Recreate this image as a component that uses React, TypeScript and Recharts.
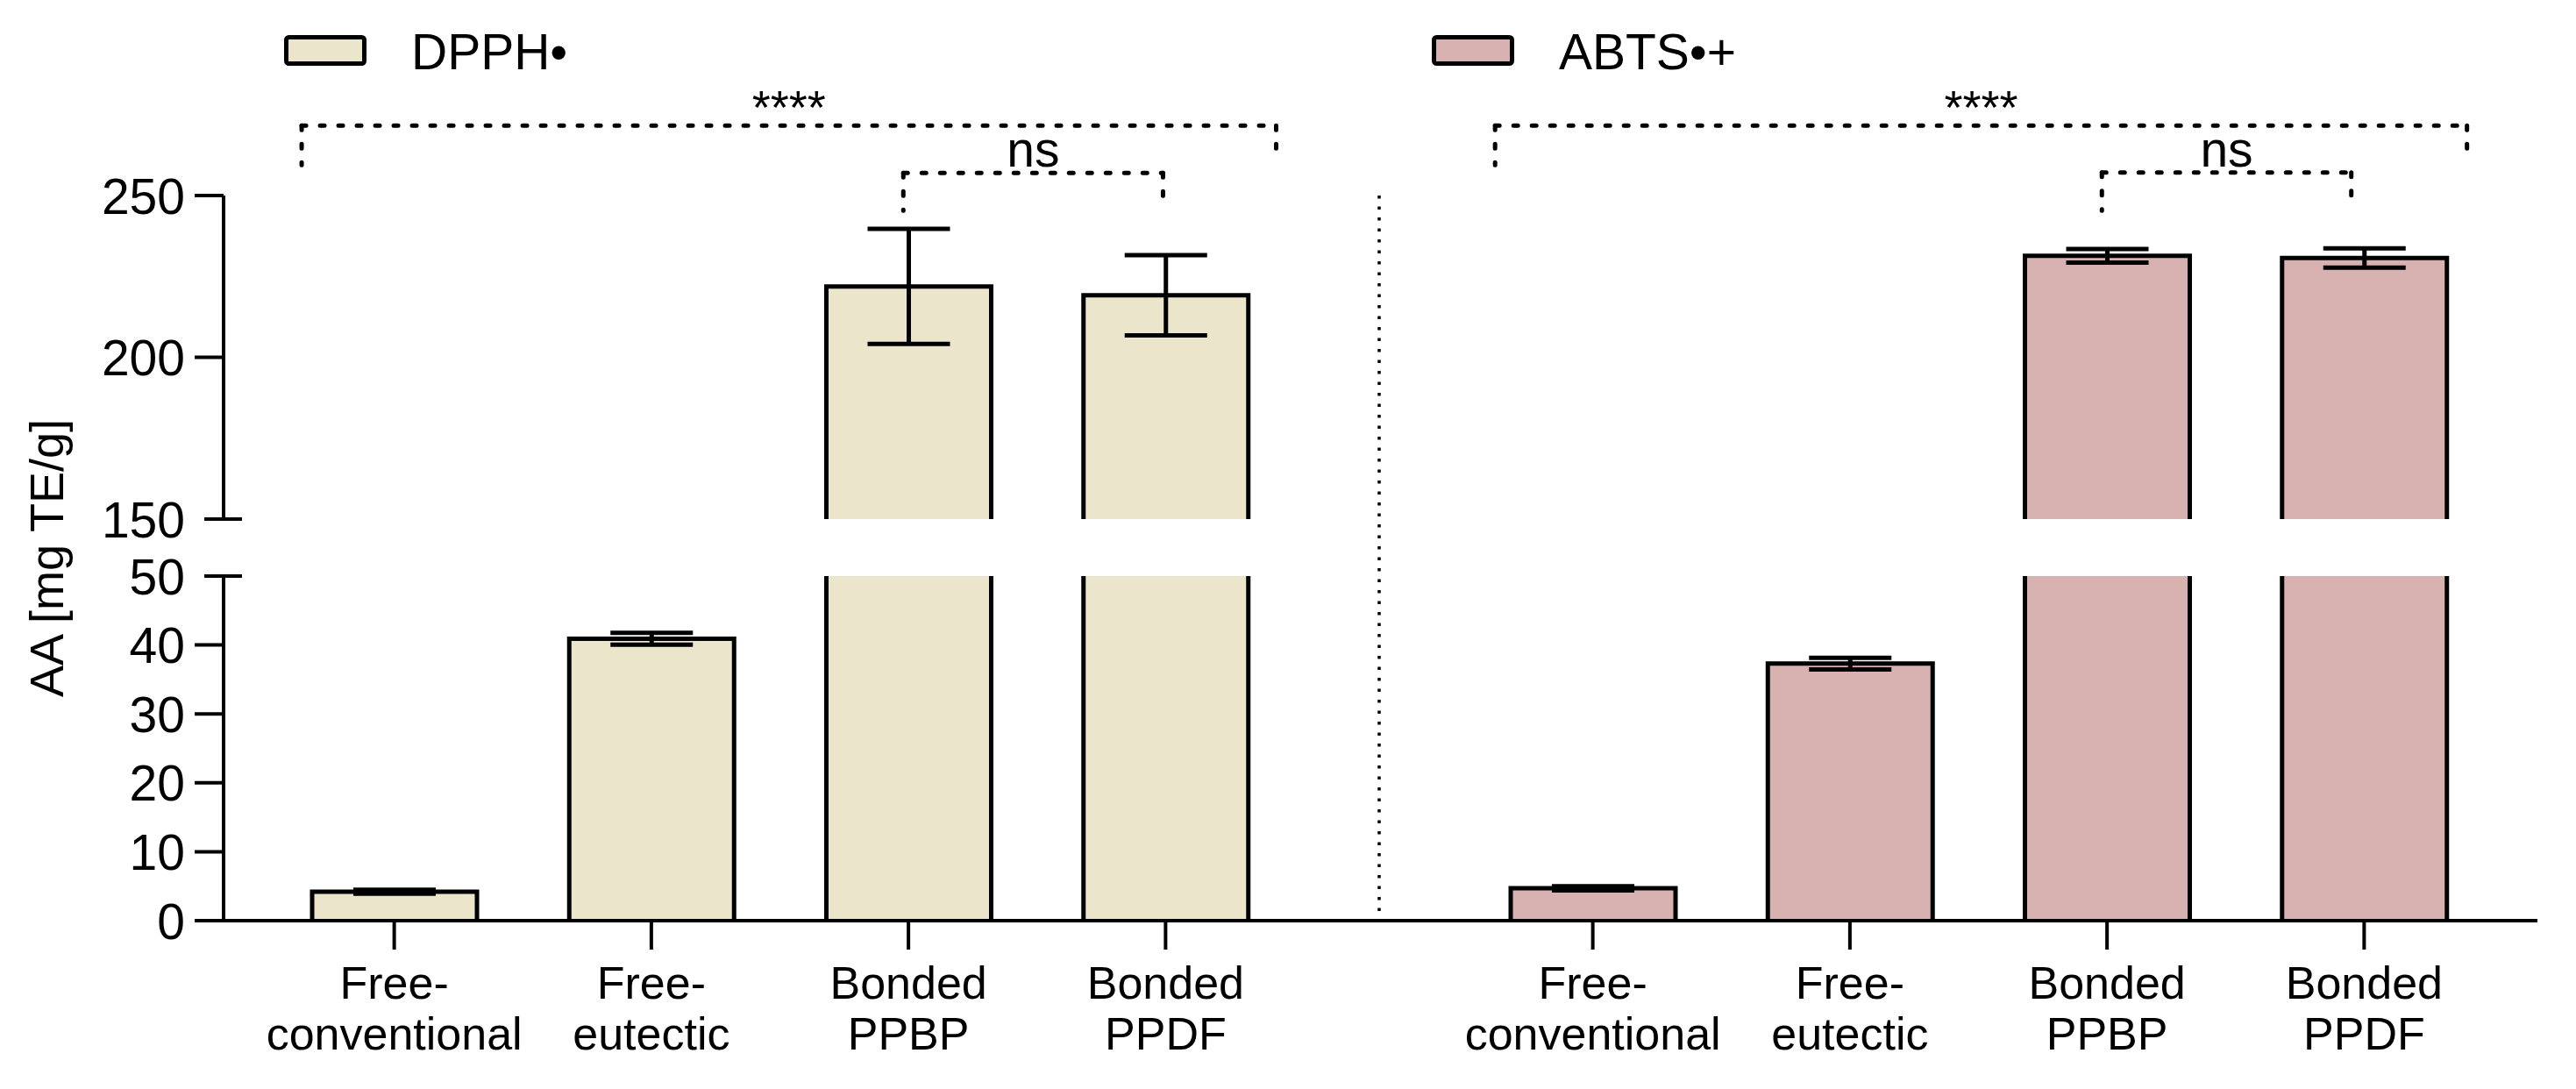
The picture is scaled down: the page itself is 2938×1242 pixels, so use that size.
import React from "react";
import { BarChart, Bar, XAxis, YAxis, ErrorBar, ReferenceLine, Legend } from "recharts";

// categories (\n = line break in the tick label)
const categories = ["Free-\nconventional", "Free-\neutectic", "Bonded\nPPBP", "Bonded\nPPDF"];

// mean and SD, mg TE/g
const dpphMean = [4.2, 40.9, 221.9, 219.2];
const dpphSd = [0.3, 0.85, 17.8, 12.4];
const abtsMean = [4.7, 37.3, 231.4, 230.7];
const abtsSd = [0.3, 0.85, 2.1, 3.0];

const lowerTicks = [0, 10, 20, 30, 40, 50];
const upperTicks = [150, 200, 250];

// significance brackets: ends in category-band units, heights in axis units
const dpphBrackets = [
  { from: 0.14, to: 3.93, y: 271.6, leftDrop: 259.4, rightDrop: 262.9, label: "****" },
  { from: 2.48, to: 3.49, y: 257.0, leftDrop: 245.3, rightDrop: 248.8, label: "ns" },
];
const abtsBrackets = [
  { from: 0.12, to: 3.9, y: 271.6, leftDrop: 259.4, rightDrop: 262.7, label: "****" },
  { from: 2.48, to: 3.45, y: 257.1, leftDrop: 245.3, rightDrop: 246.4, label: "ns" },
];

// axis break
const BREAK_LOW = 50;
const BREAK_HIGH = 150;
const TOP_VALUE = 250;

// layout, px
const W = 2938;
const H = 1242;
const PLOT_TOP = 223;
const UPPER_BOTTOM = 592;
const LOWER_TOP = 657;
const PLOT_BOTTOM = 1050;
const AXIS_X = 255;
const DIVIDER_X = 1573;
const RIGHT_END = 2894;
const B_LEFT = DIVIDER_X - 20;
const BAR_W = 188;
const INK = "#000";
const FONT = '"Liberation Sans", Arial, Helvetica, sans-serif';

const plotH = PLOT_BOTTOM - PLOT_TOP;
const lowerMax = (BREAK_LOW * plotH) / (PLOT_BOTTOM - LOWER_TOP);
const upperMin = TOP_VALUE - ((TOP_VALUE - BREAK_HIGH) * plotH) / (UPPER_BOTTOM - PLOT_TOP);
const axisDash = `${UPPER_BOTTOM - PLOT_TOP} ${LOWER_TOP - UPPER_BOTTOM} ${PLOT_BOTTOM - LOWER_TOP}`;

function buildRows(means: number[], sds: number[]) {
  return categories.map((name, i) => {
    const v = means[i];
    return {
      name,
      slot: i + 0.5,
      lower: Math.min(v, BREAK_LOW),
      upper: v >= BREAK_HIGH ? [BREAK_HIGH, v] : null,
      lowerErr: v <= BREAK_LOW ? sds[i] : null,
      upperErr: v >= BREAK_HIGH ? sds[i] : null,
      broken: v > BREAK_LOW,
    };
  });
}

const dpphRows = buildRows(dpphMean, dpphSd);
const abtsRows = buildRows(abtsMean, abtsSd);

// lower piece: open top when the bar continues above the break
const LowerShape = (props: any) => {
  const { x, y, width, height, fill, payload } = props;
  if (!width || height == null) return null;
  const d = payload.broken
    ? `M${x},${y + height}L${x},${y}M${x + width},${y}L${x + width},${y + height}`
    : `M${x},${y + height}L${x},${y}L${x + width},${y}L${x + width},${y + height}`;
  return (
    <g>
      <rect x={x} y={y} width={width} height={height} fill={fill} />
      <path d={d} stroke={INK} strokeWidth={5} fill="none" />
    </g>
  );
};

// upper piece: open bottom at the break
const UpperShape = (props: any) => {
  const { x, y, width, height, fill } = props;
  if (!width || !height) return null;
  return (
    <g>
      <rect x={x} y={y} width={width} height={height} fill={fill} />
      <path
        d={`M${x},${y + height}L${x},${y}L${x + width},${y}L${x + width},${y + height}`}
        stroke={INK}
        strokeWidth={5}
        fill="none"
      />
    </g>
  );
};

const ValueTick = (props: any) => {
  const { y, payload } = props;
  const atBreak = payload.value === BREAK_LOW || payload.value === BREAK_HIGH;
  return (
    <g>
      <line
        x1={atBreak ? AXIS_X - 22 : AXIS_X - 33}
        x2={atBreak ? AXIS_X + 21 : AXIS_X}
        y1={y}
        y2={y}
        stroke={INK}
        strokeWidth={4}
      />
      <text x={AXIS_X - 44} y={y} dy="0.36em" textAnchor="end" fontSize={57} fill={INK}>
        {payload.value}
      </text>
    </g>
  );
};

const CategoryTick = (props: any) => {
  const { x, y, payload } = props;
  const lines = String(payload.value).split("\n");
  return (
    <g>
      {lines.map((line, i) => (
        <text key={i} x={x} y={y + 54 + i * 58} textAnchor="middle" fontSize={52} fill={INK}>
          {line}
        </text>
      ))}
    </g>
  );
};

const AxisTitle = () => {
  const cx = 72;
  const cy = (PLOT_TOP + PLOT_BOTTOM) / 2;
  return (
    <text x={cx} y={cy} transform={`rotate(-90 ${cx} ${cy})`} textAnchor="middle" fontSize={54} fill={INK}>
      AA [mg TE/g]
    </text>
  );
};

const LegendKey = ({ x, fill, name }: { x: number; fill: string; name: string }) => (
  <svg width={x + 420} height={100} style={{ display: "block" }}>
    <rect x={x + 2.5} y={42.5} width={89} height={30} rx={3} fill={fill} stroke={INK} strokeWidth={5} />
    <text x={x + 145} y={79} fontSize={57} fill={INK} fontFamily={FONT}>
      {name}
    </text>
  </svg>
);

interface PanelProps {
  rows: ReturnType<typeof buildRows>;
  fill: string;
  name: string;
  brackets: typeof dpphBrackets;
  left: number;
  width: number;
  marginLeft: number;
  marginRight: number;
  padding: { left: number; right: number };
  legendX: number;
  withAxis: boolean;
}

function Panel({ rows, fill, name, brackets, left, width, marginLeft, marginRight, padding, legendX, withAxis }: PanelProps) {
  const dash = {
    stroke: INK,
    strokeWidth: 5,
    strokeDasharray: "5 16",
    strokeLinecap: "round" as const,
    ifOverflow: "visible" as const,
  };
  return (
    <div style={{ position: "absolute", left, top: 0, width, height: H }}>
      <BarChart
        width={width}
        height={H}
        data={rows}
        margin={{ top: PLOT_TOP, right: marginRight, bottom: 42, left: marginLeft }}
      >
        <XAxis
          xAxisId="cat"
          dataKey="name"
          padding={padding}
          interval={0}
          height={150}
          tickSize={33}
          axisLine={{ stroke: INK, strokeWidth: 4 }}
          tickLine={{ stroke: INK, strokeWidth: 4 }}
          tick={<CategoryTick />}
        />
        <XAxis xAxisId="top" dataKey="name" padding={padding} hide />
        <XAxis
          xAxisId="pos"
          type="number"
          dataKey="slot"
          domain={[0, categories.length]}
          padding={padding}
          allowDataOverflow
          hide
        />
        {withAxis ? (
          <YAxis
            yAxisId="lower"
            domain={[0, lowerMax]}
            ticks={lowerTicks}
            interval={0}
            allowDataOverflow
            width={1}
            axisLine={{ stroke: INK, strokeWidth: 4, strokeDasharray: axisDash }}
            tickLine={false}
            tick={<ValueTick />}
            label={<AxisTitle />}
          />
        ) : (
          <YAxis
            yAxisId="lower"
            domain={[0, lowerMax]}
            allowDataOverflow
            width={1}
            tick={false}
            tickLine={false}
            axisLine={{ stroke: INK, strokeWidth: 3.5, strokeDasharray: "3.5 9" }}
          />
        )}
        {withAxis ? (
          <YAxis
            yAxisId="upper"
            domain={[upperMin, TOP_VALUE]}
            ticks={upperTicks}
            interval={0}
            allowDataOverflow
            width={1}
            axisLine={false}
            tickLine={false}
            tick={<ValueTick />}
          />
        ) : (
          <YAxis yAxisId="upper" domain={[upperMin, TOP_VALUE]} allowDataOverflow hide />
        )}
        <Legend
          layout="vertical"
          align="center"
          verticalAlign="middle"
          wrapperStyle={{ top: 0, left: 0, width: legendX + 420, height: 100 }}
          content={() => <LegendKey x={legendX} fill={fill} name={name} />}
        />
        <Bar
          xAxisId="cat"
          yAxisId="lower"
          dataKey="lower"
          name={name}
          fill={fill}
          barSize={BAR_W}
          shape={<LowerShape />}
          isAnimationActive={false}
        >
          <ErrorBar dataKey="lowerErr" width={47} stroke={INK} strokeWidth={5} />
        </Bar>
        <Bar
          xAxisId="top"
          yAxisId="upper"
          dataKey="upper"
          legendType="none"
          fill={fill}
          barSize={BAR_W}
          shape={<UpperShape />}
          isAnimationActive={false}
        >
          <ErrorBar dataKey="upperErr" width={47} stroke={INK} strokeWidth={5} />
        </Bar>
        {brackets.map((b, i) => (
          <React.Fragment key={i}>
            <ReferenceLine
              xAxisId="pos"
              yAxisId="upper"
              segment={[{ x: b.from, y: b.y }, { x: b.from, y: b.leftDrop }]}
              {...dash}
            />
            <ReferenceLine
              xAxisId="pos"
              yAxisId="upper"
              segment={[{ x: b.from, y: b.y }, { x: b.to, y: b.y }]}
              label={{
                value: b.label,
                position: "top",
                offset: b.label === "ns" ? 7 : 2,
                fontSize: b.label === "ns" ? 57 : 54,
                fill: INK,
              }}
              {...dash}
            />
            <ReferenceLine
              xAxisId="pos"
              yAxisId="upper"
              segment={[{ x: b.to, y: b.y }, { x: b.to, y: b.rightDrop }]}
              {...dash}
            />
          </React.Fragment>
        ))}
      </BarChart>
    </div>
  );
}

export default function App() {
  return (
    <div
      style={{
        position: "absolute",
        left: 0,
        top: 0,
        width: W,
        height: H,
        background: "#fff",
        fontFamily: FONT,
        overflow: "hidden",
      }}
    >
      <Panel
        rows={dpphRows}
        fill="#EBE6CB"
        name="DPPH•"
        brackets={dpphBrackets}
        left={0}
        width={DIVIDER_X}
        marginLeft={AXIS_X - 2}
        marginRight={0}
        padding={{ left: 48, right: 97 }}
        legendX={324}
        withAxis
      />
      <Panel
        rows={abtsRows}
        fill="#D7B2B1"
        name="ABTS•+"
        brackets={abtsBrackets}
        left={B_LEFT}
        width={W - B_LEFT}
        marginLeft={DIVIDER_X - B_LEFT - 1}
        marginRight={W - RIGHT_END}
        padding={{ left: 97, right: 51 }}
        legendX={1633 - B_LEFT}
        withAxis={false}
      />
    </div>
  );
}
